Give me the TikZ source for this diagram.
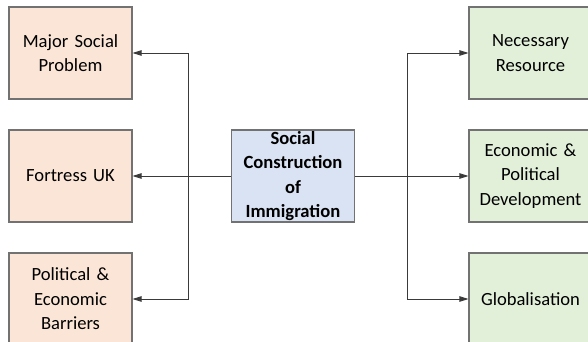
\documentclass[tikz,border=0pt]{standalone}
\usepackage{fontspec}
\setmainfont{Carlito}
\usepackage{tikz}
\usetikzlibrary{arrows.meta,positioning,calc}

\definecolor{peach}{HTML}{FBE5D6}
\definecolor{sage}{HTML}{E2F0D9}
\definecolor{steel}{HTML}{DAE3F3}
\definecolor{rim}{HTML}{727272}
\definecolor{wirecol}{HTML}{3A3A3A}

\begin{document}
\begin{tikzpicture}[
    x=1pt, y=-1pt,
    box/.style={draw=rim, line width=1.1pt, minimum width=123pt, minimum height=92pt,
      text width=118pt, align=center, inner sep=0pt,
      font=\fontsize{18.6}{24.5}\selectfont},
    cause/.style={box, fill=peach},
    effect/.style={box, fill=sage},
    core/.style={box, fill=steel, font=\fontsize{18.6}{24.5}\selectfont\bfseries},
    wire/.style={draw=wirecol, line width=0.9pt},
    arrow/.style={wire, -{Triangle[length=9pt, width=5.5pt]}}
  ]
  \useasboundingbox (0,0) rectangle (588,342);

  \node[core] (imm) at (293,176) {Social\\Construction\\of\\Immigration};

  \node[cause] (problem)  at (70.5,53)  {Major Social\\Problem};
  \node[cause] (fortress) at (70.5,176) {Fortress UK};
  \node[cause] (barriers) at (70.5,299) {Political \&\\Economic\\Barriers};

  \node[effect] (resource) at (530.5,53)  {Necessary\\Resource};
  \node[effect] (develop)  at (530.5,176) {Economic \&\\Political\\Development};
  \node[effect] (global)   at (530.5,299) {Globalisation};

  % junctions
  \coordinate (lj) at (188,176);
  \coordinate (rj) at (407,176);

  \draw[wire] (imm.west) -- (lj);
  \draw[arrow] (lj) |- (problem.east);
  \draw[arrow] (lj) -- (fortress.east);
  \draw[arrow] (lj) |- (barriers.east);

  \draw[wire] (imm.east) -- (rj);
  \draw[arrow] (rj) |- (resource.west);
  \draw[arrow] (rj) -- (develop.west);
  \draw[arrow] (rj) |- (global.west);
\end{tikzpicture}
\end{document}
